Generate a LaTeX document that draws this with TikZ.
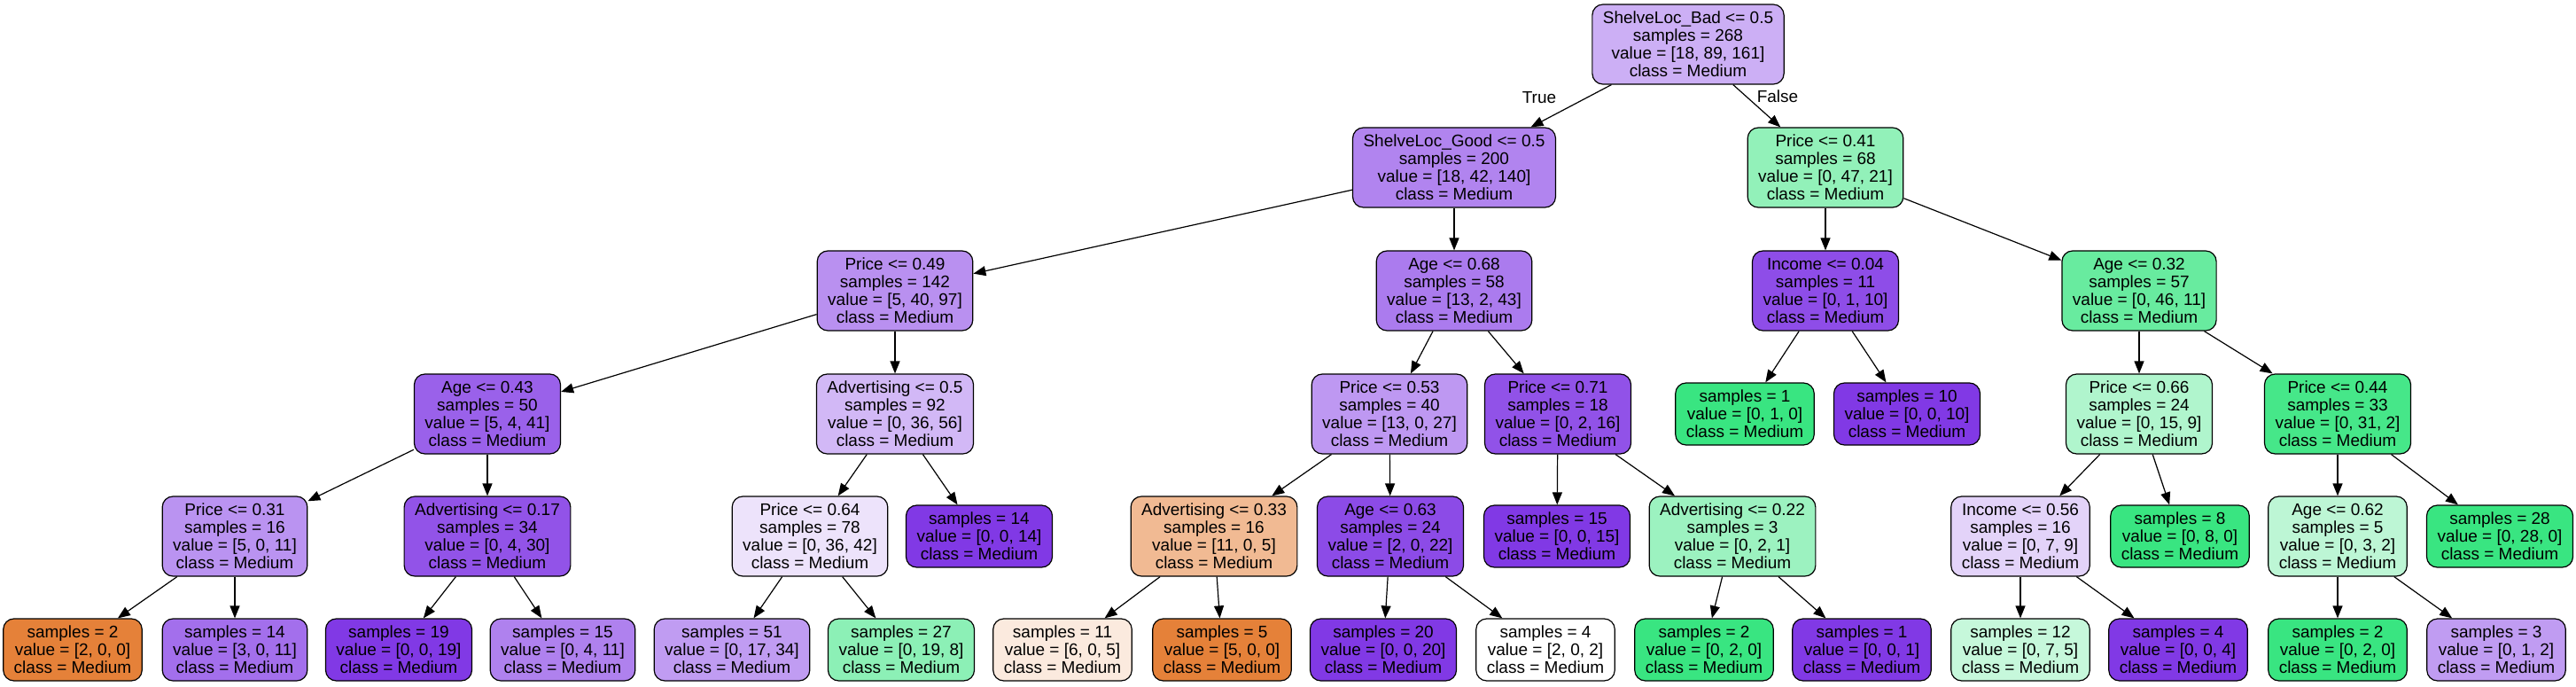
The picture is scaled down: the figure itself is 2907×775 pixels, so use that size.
\documentclass[tikz,border=0pt]{standalone}
\usepackage{fontspec}
\setmainfont{Liberation Sans}
\usetikzlibrary{arrows.meta}
\definecolor{orng}{RGB}{229,129,57}
\definecolor{grn}{RGB}{57,229,129}
\definecolor{prp}{RGB}{129,57,229}
\begin{document}
\begin{tikzpicture}[x=1pt,y=1pt,
  tn/.style={draw=black, line width=1.2pt, rounded corners=12pt, align=center,
    inner xsep=12pt, inner ysep=3pt, font=\fontsize{19}{20}\selectfont},
  inn/.style={tn, minimum height=90pt},
  leaf/.style={tn, minimum height=70pt},
  edge/.style={draw=black, line width=1.2pt, -{Triangle[length=14pt,width=11pt]}},
  lbl/.style={font=\fontsize{19}{20}\selectfont, inner sep=0pt}]
\useasboundingbox (0,0) rectangle (2907,-775);
% level 0
\node[inn, fill=prp!40.2!white] (n0) at (1905,-50) {ShelveLoc\_Bad <= 0.5\\samples = 268\\value = [18, 89, 161]\\class = Medium};
% level 1
\node[inn, fill=prp!62!white] (n1) at (1641,-189) {ShelveLoc\_Good <= 0.5\\samples = 200\\value = [18, 42, 140]\\class = Medium};
\node[inn, fill=grn!55.3!white] (n2) at (2060,-189) {Price <= 0.41\\samples = 68\\value = [0, 47, 21]\\class = Medium};
% level 2
\node[inn, fill=prp!55.9!white] (n3) at (1010,-328) {Price <= 0.49\\samples = 142\\value = [5, 40, 97]\\class = Medium};
\node[inn, fill=prp!66.7!white] (n4) at (1641,-328) {Age <= 0.68\\samples = 58\\value = [13, 2, 43]\\class = Medium};
\node[inn, fill=prp!90!white] (n5) at (2060,-328) {Income <= 0.04\\samples = 11\\value = [0, 1, 10]\\class = Medium};
\node[inn, fill=grn!76.1!white] (n6) at (2414,-328) {Age <= 0.32\\samples = 57\\value = [0, 46, 11]\\class = Medium};
% level 3
\node[inn, fill=prp!80!white] (n7) at (550,-467) {Age <= 0.43\\samples = 50\\value = [5, 4, 41]\\class = Medium};
\node[inn, fill=prp!35.7!white] (n8) at (1010,-467) {Advertising <= 0.5\\samples = 92\\value = [0, 36, 56]\\class = Medium};
\node[inn, fill=prp!51.9!white] (n9) at (1568,-467) {Price <= 0.53\\samples = 40\\value = [13, 0, 27]\\class = Medium};
\node[inn, fill=prp!87.5!white] (n10) at (1758,-467) {Price <= 0.71\\samples = 18\\value = [0, 2, 16]\\class = Medium};
\node[leaf, fill=grn] (n11) at (1969,-467) {samples = 1\\value = [0, 1, 0]\\class = Medium};
\node[leaf, fill=prp] (n12) at (2152,-467) {samples = 10\\value = [0, 0, 10]\\class = Medium};
\node[inn, fill=grn!40!white] (n13) at (2414,-467) {Price <= 0.66\\samples = 24\\value = [0, 15, 9]\\class = Medium};
\node[inn, fill=grn!93.5!white] (n14) at (2638,-467) {Price <= 0.44\\samples = 33\\value = [0, 31, 2]\\class = Medium};
% level 4
\node[inn, fill=prp!54.5!white] (n15) at (265,-605) {Price <= 0.31\\samples = 16\\value = [5, 0, 11]\\class = Medium};
\node[inn, fill=prp!86.7!white] (n16) at (550,-605) {Advertising <= 0.17\\samples = 34\\value = [0, 4, 30]\\class = Medium};
\node[inn, fill=prp!14.3!white] (n17) at (914,-605) {Price <= 0.64\\samples = 78\\value = [0, 36, 42]\\class = Medium};
\node[leaf, fill=prp] (n18) at (1105,-605) {samples = 14\\value = [0, 0, 14]\\class = Medium};
\node[inn, fill=orng!54.5!white] (n19) at (1370,-605) {Advertising <= 0.33\\samples = 16\\value = [11, 0, 5]\\class = Medium};
\node[inn, fill=prp!90.9!white] (n20) at (1569,-605) {Age <= 0.63\\samples = 24\\value = [2, 0, 22]\\class = Medium};
\node[leaf, fill=prp] (n21) at (1757,-605) {samples = 15\\value = [0, 0, 15]\\class = Medium};
\node[inn, fill=grn!50!white] (n22) at (1955,-605) {Advertising <= 0.22\\samples = 3\\value = [0, 2, 1]\\class = Medium};
\node[inn, fill=prp!22.2!white] (n23) at (2280,-605) {Income <= 0.56\\samples = 16\\value = [0, 7, 9]\\class = Medium};
\node[leaf, fill=grn] (n24) at (2460,-605) {samples = 8\\value = [0, 8, 0]\\class = Medium};
\node[inn, fill=grn!33.3!white] (n25) at (2638,-605) {Age <= 0.62\\samples = 5\\value = [0, 3, 2]\\class = Medium};
\node[leaf, fill=grn] (n26) at (2821,-605) {samples = 28\\value = [0, 28, 0]\\class = Medium};
% level 5
\node[leaf, fill=orng] (l1) at (82,-733) {samples = 2\\value = [2, 0, 0]\\class = Medium};
\node[leaf, fill=prp!72.7!white] (l2) at (265,-733) {samples = 14\\value = [3, 0, 11]\\class = Medium};
\node[leaf, fill=prp] (l3) at (450,-733) {samples = 19\\value = [0, 0, 19]\\class = Medium};
\node[leaf, fill=prp!63.6!white] (l4) at (635,-733) {samples = 15\\value = [0, 4, 11]\\class = Medium};
\node[leaf, fill=prp!50!white] (l5) at (826,-733) {samples = 51\\value = [0, 17, 34]\\class = Medium};
\node[leaf, fill=grn!57.9!white] (l6) at (1017,-733) {samples = 27\\value = [0, 19, 8]\\class = Medium};
\node[leaf, fill=orng!16.7!white] (l7) at (1199,-733) {samples = 11\\value = [6, 0, 5]\\class = Medium};
\node[leaf, fill=orng] (l8) at (1379,-733) {samples = 5\\value = [5, 0, 0]\\class = Medium};
\node[leaf, fill=prp] (l9) at (1561,-733) {samples = 20\\value = [0, 0, 20]\\class = Medium};
\node[leaf, fill=white] (l10) at (1744,-733) {samples = 4\\value = [2, 0, 2]\\class = Medium};
\node[leaf, fill=grn] (l11) at (1923,-733) {samples = 2\\value = [0, 2, 0]\\class = Medium};
\node[leaf, fill=prp] (l12) at (2101,-733) {samples = 1\\value = [0, 0, 1]\\class = Medium};
\node[leaf, fill=grn!28.6!white] (l13) at (2280,-733) {samples = 12\\value = [0, 7, 5]\\class = Medium};
\node[leaf, fill=prp] (l14) at (2458,-733) {samples = 4\\value = [0, 0, 4]\\class = Medium};
\node[leaf, fill=grn] (l15) at (2638,-733) {samples = 2\\value = [0, 2, 0]\\class = Medium};
\node[leaf, fill=prp!50!white] (l16) at (2817,-733) {samples = 3\\value = [0, 1, 2]\\class = Medium};
% edge labels
\node[lbl] (tlab) at (1737,-110) {True};
\node[lbl] (flab) at (2006,-109) {False};
% edges
\foreach \a/\b in {n0/n1,n0/n2,n1/n3,n1/n4,n2/n5,n2/n6,n3/n7,n3/n8,n4/n9,n4/n10,
  n5/n11,n5/n12,n6/n13,n6/n14,n7/n15,n7/n16,n8/n17,n8/n18,n9/n19,n9/n20,
  n10/n21,n10/n22,n13/n23,n13/n24,n14/n25,n14/n26,n15/l1,n15/l2,n16/l3,n16/l4,
  n17/l5,n17/l6,n19/l7,n19/l8,n20/l9,n20/l10,n22/l11,n22/l12,n23/l13,n23/l14,
  n25/l15,n25/l16}
  \draw[edge] (\a) -- (\b);
\end{tikzpicture}
\end{document}
